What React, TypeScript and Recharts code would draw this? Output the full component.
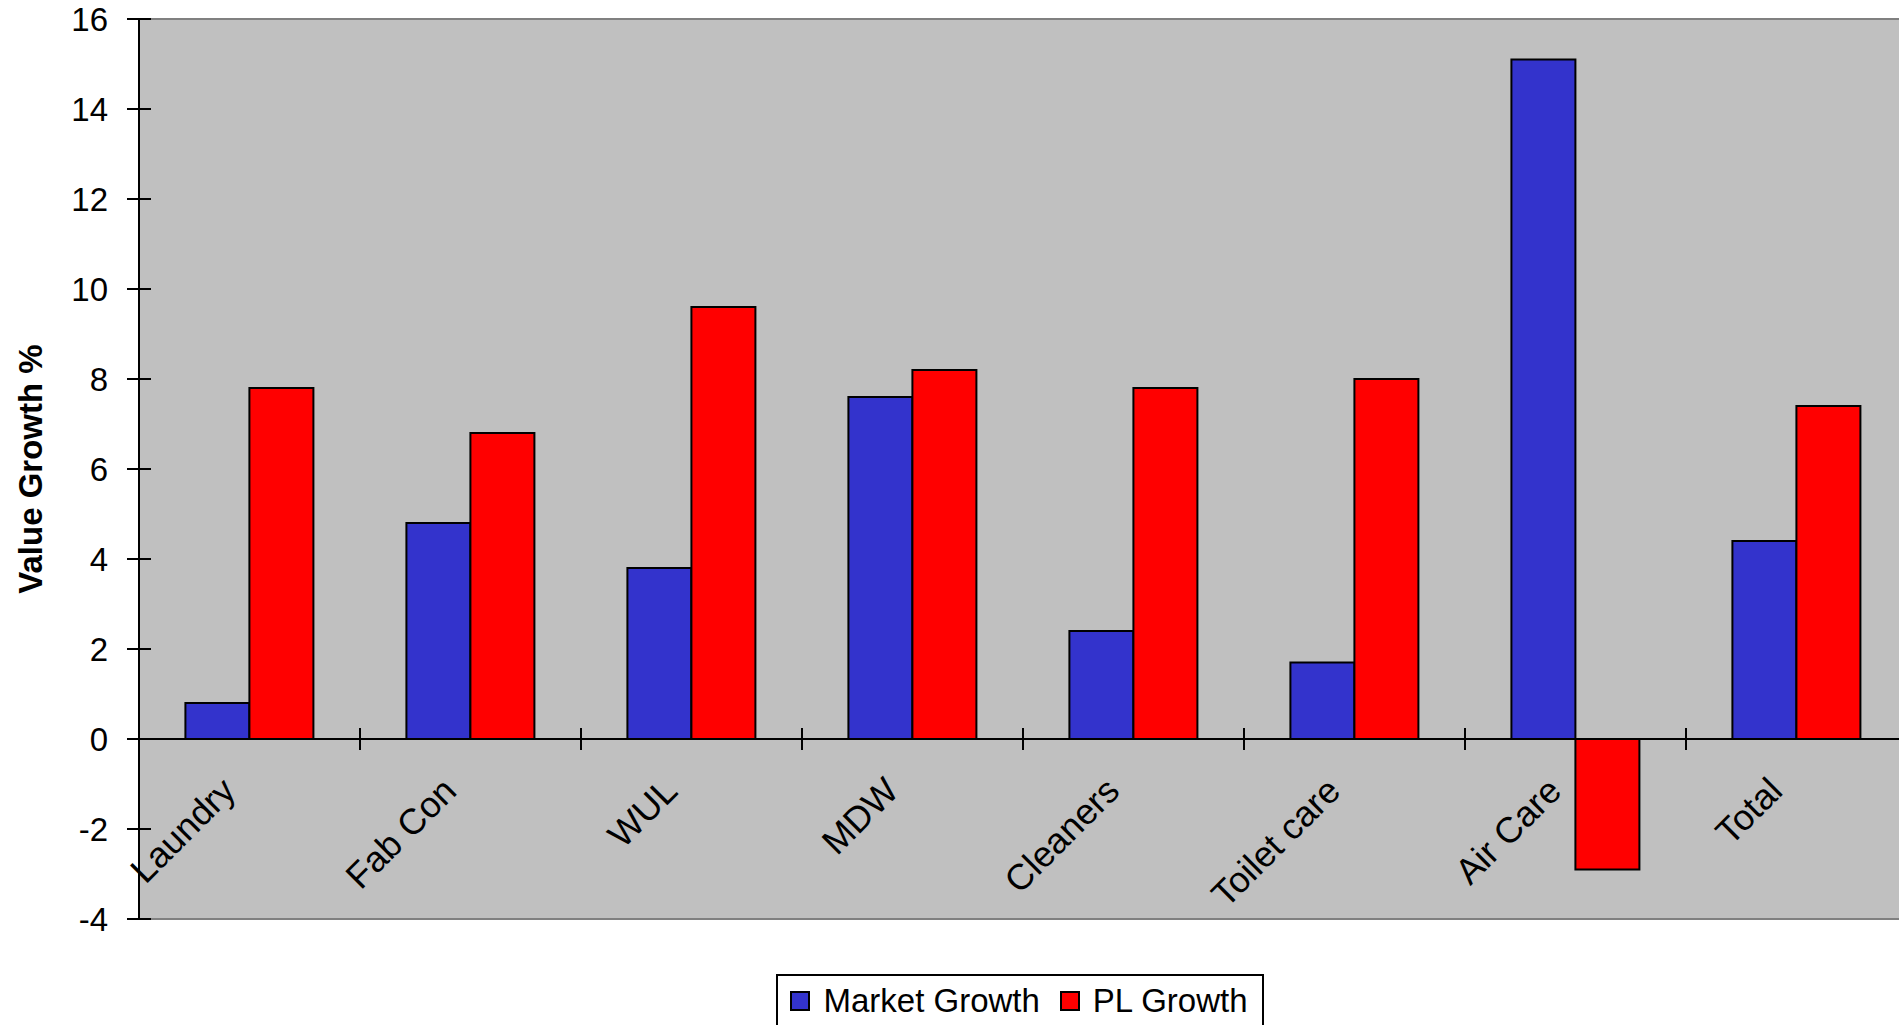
import { BarChart, Bar, XAxis, YAxis, CartesianGrid, ReferenceLine, Legend, Label } from "recharts";

const CATEGORIES = ["Laundry", "Fab Con", "WUL", "MDW", "Cleaners", "Toilet care", "Air Care", "Total"];
const MARKET_GROWTH = [0.8, 4.8, 3.8, 7.6, 2.4, 1.7, 15.1, 4.4];
const PL_GROWTH = [7.8, 6.8, 9.6, 8.2, 7.8, 8.0, -2.9, 7.4];
const Y_TICKS = [-4, -2, 0, 2, 4, 6, 8, 10, 12, 14, 16];

const BLUE = "#3333cc";
const RED = "#ff0000";
const PLOT_BG = "#c0c0c0";
const FONT = "'Liberation Sans', Arial, sans-serif";

const CHART_W = 1920;
const CHART_H = 1032;
const MARGIN = { top: 19, right: 13, bottom: 0, left: 0 };
const YAXIS_W = 139;
const XAXIS_H = 1;
const LEGEND_H = 112;
const PLOT_TOP = MARGIN.top;
const PLOT_H = CHART_H - MARGIN.top - MARGIN.bottom - LEGEND_H - XAXIS_H;
const PLOT_W = CHART_W - MARGIN.left - MARGIN.right - YAXIS_W;
const BAND = PLOT_W / CATEGORIES.length;
const Y_MIN = Y_TICKS[0];
const Y_MAX = Y_TICKS[Y_TICKS.length - 1];
const ZERO_Y = PLOT_TOP + ((Y_MAX - 0) / (Y_MAX - Y_MIN)) * PLOT_H;

const data = CATEGORIES.map((name, i) => ({
  name,
  market: MARKET_GROWTH[i],
  pl: PL_GROWTH[i],
}));

function YTick(props: any) {
  const { x, y, payload } = props;
  const axisX = x + 19 + 12;
  return (
    <g>
      <line x1={axisX - 12} x2={axisX + 12} y1={y} y2={y} stroke="#000" strokeWidth={2} />
      <text x={x} y={y} dy="0.36em" textAnchor="end" fontSize={33} fontFamily={FONT} fill="#000">
        {payload.value}
      </text>
    </g>
  );
}

// category labels sit inside the plot, just under the zero line
function CategoryTick(props: any) {
  const { x, payload } = props;
  const tx = x + BAND / 2;
  const lx = x - 12;
  const ly = ZERO_Y + 54;
  return (
    <g>
      <line x1={tx} x2={tx} y1={ZERO_Y - 11} y2={ZERO_Y + 11} stroke="#000" strokeWidth={2} />
      <text
        x={lx}
        y={ly}
        textAnchor="end"
        transform={`rotate(-45 ${lx} ${ly})`}
        fontSize={36}
        fontFamily={FONT}
        fill="#000"
      >
        {payload.value}
      </text>
    </g>
  );
}

function YTitle(props: any) {
  const { viewBox } = props;
  const cx = 30;
  const cy = viewBox.y + viewBox.height / 2;
  return (
    <text
      x={cx}
      y={cy}
      dy="0.36em"
      textAnchor="middle"
      transform={`rotate(-90 ${cx} ${cy})`}
      fontSize={33}
      fontWeight="bold"
      fontFamily={FONT}
      fill="#000"
    >
      Value Growth %
    </text>
  );
}

function LegendBox(props: any) {
  const { payload } = props;
  return (
    <div style={{ height: LEGEND_H, paddingTop: 54, boxSizing: "border-box", display: "flex", justifyContent: "center" }}>
      <div
        style={{
          display: "flex",
          alignItems: "center",
          height: 62,
          boxSizing: "border-box",
          border: "2px solid #000",
          padding: "0 14px 8px 12px",
          background: "#fff",
          fontFamily: FONT,
          fontSize: 33,
          color: "#000",
          marginLeft: -6,
        }}
      >
        {(payload || []).map((p: any, i: number) => (
          <div key={p.value} style={{ display: "flex", alignItems: "center", marginLeft: i === 0 ? 0 : 20 }}>
            <span
              style={{
                width: 20,
                height: 20,
                boxSizing: "border-box",
                background: p.color,
                border: "2px solid #000",
                marginRight: 13,
                display: "inline-block",
              }}
            />
            <span>{p.value}</span>
          </div>
        ))}
      </div>
    </div>
  );
}

export default function App() {
  return (
    <div style={{ position: "absolute", left: 0, top: 0, width: 1899, height: 1025, overflow: "hidden", background: "#fff" }}>
      <BarChart width={CHART_W} height={CHART_H} data={data} margin={MARGIN} barCategoryGap="21%" barGap={0}>
        <CartesianGrid fill={PLOT_BG} horizontal={false} vertical={false} />
        <XAxis dataKey="name" height={XAXIS_H} axisLine={false} tickLine={false} tick={<CategoryTick />} interval={0} />
        <YAxis
          domain={[Y_MIN, Y_MAX]}
          ticks={Y_TICKS}
          width={YAXIS_W}
          tickSize={12}
          tickMargin={19}
          tickLine={false}
          axisLine={{ stroke: "#000", strokeWidth: 2 }}
          tick={<YTick />}
          interval={0}
        >
          <Label content={<YTitle />} />
        </YAxis>
        <ReferenceLine y={Y_MAX} stroke="#808080" strokeWidth={2} />
        <ReferenceLine y={Y_MIN} stroke="#808080" strokeWidth={2} />
        <Bar dataKey="market" name="Market Growth" fill={BLUE} stroke="#000" strokeWidth={2} isAnimationActive={false} />
        <Bar dataKey="pl" name="PL Growth" fill={RED} stroke="#000" strokeWidth={2} isAnimationActive={false} />
        <ReferenceLine y={0} stroke="#000" strokeWidth={2} />
        <Legend
          verticalAlign="bottom"
          content={<LegendBox />}
          wrapperStyle={{ left: YAXIS_W, width: PLOT_W, height: LEGEND_H, bottom: 0 }}
        />
      </BarChart>
    </div>
  );
}
